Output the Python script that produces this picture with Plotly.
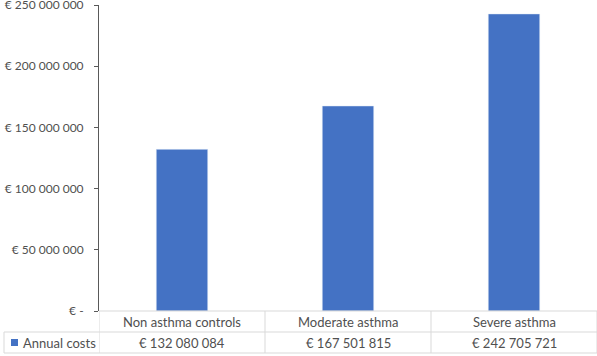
import plotly.graph_objects as go

categories = ["Non asthma controls", "Moderate asthma", "Severe asthma"]
annual_costs = [132080084, 167501815, 242705721]
series_name = "Annual costs"
tick_values = [0, 50000000, 100000000, 150000000, 200000000, 250000000]
tick_labels = ["€ -", "€ 50 000 000", "€ 100 000 000", "€ 150 000 000", "€ 200 000 000", "€ 250 000 000"]

FONT = "Lato"
TXT = "#505050"
GRID = "#d9d9d9"
BLUE = "#4472C4"

def fmt(v):
    return "€ " + f"{v:,}".replace(",", " ")

W, H = 597, 356
L, R, T, B = 99, 0, 5, 45
pw, ph = W - L - R, H - T - B

def py(px):  # pixel y -> paper y
    return (H - B - px) / ph

def pxx(px):
    return (px - L) / pw

fig = go.Figure()
fig.add_trace(go.Bar(x=list(range(len(categories))), y=annual_costs, marker_color=BLUE,
                     width=0.31, name=series_name, showlegend=False, hoverinfo="y"))

shapes = []
line = dict(color=GRID, width=1)
for yy in [311, 332, 353]:
    x0 = pxx(99) if yy == 311 else pxx(4)
    shapes.append(dict(type="line", xref="paper", yref="paper", x0=x0, x1=1, y0=py(yy), y1=py(yy), line=line))
for i in range(len(categories) + 1):
    xv = i - 0.5
    shapes.append(dict(type="line", xref="x", yref="paper", x0=xv, x1=xv, y0=py(311), y1=py(353), line=line))
shapes.append(dict(type="line", xref="paper", yref="paper", x0=pxx(4), x1=pxx(4), y0=py(332), y1=py(353), line=line))
shapes.append(dict(type="rect", xref="paper", yref="paper", x0=pxx(11), x1=pxx(18), y0=py(346), y1=py(339),
                   fillcolor=BLUE, line=dict(width=0)))

annotations = []
for i, c in enumerate(categories):
    annotations.append(dict(x=i, y=py(321.5), xref="x", yref="paper", text=c, showarrow=False,
                            font=dict(family=FONT, size=13, color=TXT), yanchor="middle"))
    annotations.append(dict(x=i, y=py(342.5), xref="x", yref="paper", text=fmt(annual_costs[i]), showarrow=False,
                            font=dict(family=FONT, size=13, color=TXT), yanchor="middle"))
annotations.append(dict(x=pxx(21), y=py(342.5), xref="paper", yref="paper", text=series_name, showarrow=False,
                        xanchor="left", yanchor="middle", font=dict(family=FONT, size=13, color=TXT)))

fig.update_layout(
    width=W, height=H,
    margin=dict(l=L, r=R, t=T, b=B, autoexpand=False),
    paper_bgcolor="white", plot_bgcolor="white",
    shapes=shapes, annotations=annotations,
    xaxis=dict(range=[-0.5, 2.5], showticklabels=False, showgrid=False, zeroline=False, showline=False, ticks="",
               automargin=False),
    yaxis=dict(range=[0, 250000000], tickvals=tick_values, ticktext=tick_labels, showgrid=False, zeroline=False,
               showline=True, linecolor="#595959", linewidth=1, ticks="outside", ticklen=4, tickcolor="#595959",
               tickfont=dict(family=FONT, size=12, color=TXT), ticklabelstandoff=8, automargin=False,
               ticklabeloverflow="allow"),
    font=dict(family=FONT),
)

fig.write_html("out.html", config={"displayModeBar": False},
               post_script="document.body.style.margin='0';document.body.style.overflow='hidden';")
